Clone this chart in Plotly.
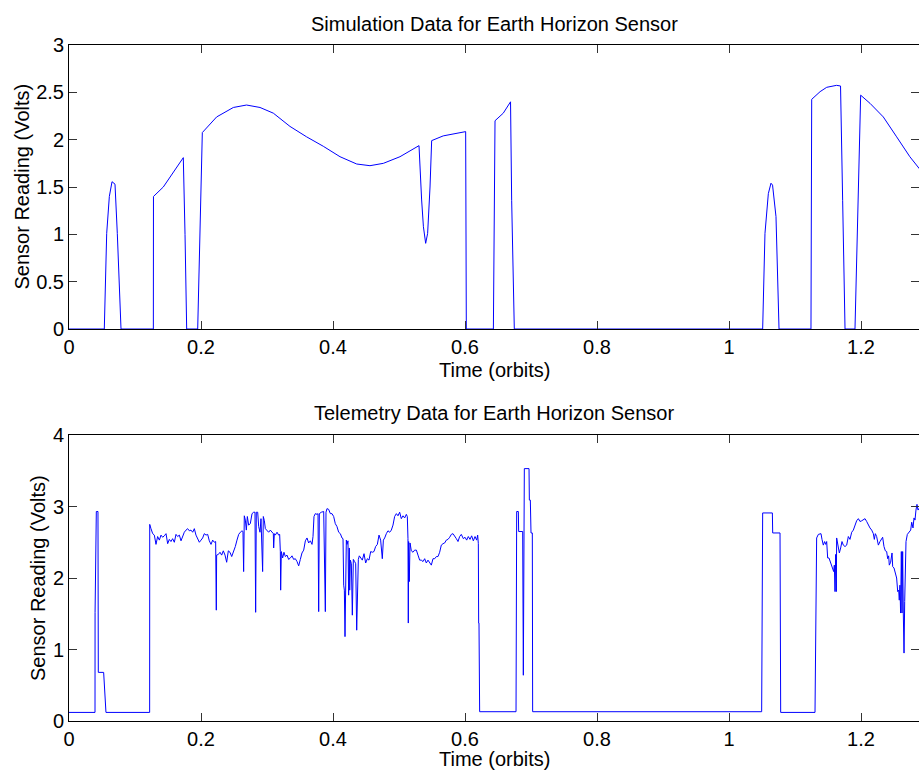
import plotly.graph_objects as go

# ---------------- data ----------------
sim_time = [0, 0.0535, 0.0571, 0.0611, 0.0652, 0.0697, 0.0732, 0.0788, 0.1278, 0.1280,
            0.1429, 0.1732, 0.1758, 0.1783, 0.1950, 0.2020, 0.2237, 0.2490, 0.2690, 0.2894,
            0.3096, 0.3348, 0.3600, 0.3853, 0.4106, 0.4359, 0.4560, 0.4763, 0.5015, 0.5303,
            0.5343, 0.5370, 0.5404, 0.5434, 0.5470, 0.5495, 0.5670, 0.5924, 0.6010, 0.6020,
            0.6430, 0.6455, 0.6580, 0.6690, 0.6707, 0.6747, 1.0510, 1.0545, 1.0596, 1.0636,
            1.0660, 1.0712, 1.0758, 1.1242, 1.1253, 1.1380, 1.1480, 1.1630, 1.1690, 1.1722,
            1.1758, 1.1909, 1.1960, 1.1995, 1.2136, 1.2338, 1.2540, 1.2740, 1.2880, 1.3000]
sim_volts = [0, 0, 1.01, 1.40, 1.556, 1.53, 1.01, 0, 0, 1.40,
             1.50, 1.81, 1.00, 0, 0, 2.075, 2.24, 2.34, 2.366, 2.34,
             2.28, 2.14, 2.03, 1.93, 1.82, 1.743, 1.725, 1.75, 1.82, 1.937,
             1.363, 1.08, 0.905, 1.01, 1.50, 1.99, 2.04, 2.075, 2.085, 0,
             0, 2.20, 2.28, 2.40, 1.36, 0, 0, 1.01, 1.43, 1.54,
             1.52, 1.187, 0, 0, 2.426, 2.507, 2.553, 2.574, 2.567, 1.36,
             0, 0, 1.54, 2.47, 2.384, 2.24, 2.03, 1.82, 1.697, 1.60]

tel_time = [0, 0.0394, 0.0395, 0.0414, 0.0439, 0.0444, 0.0525, 0.0535, 0.0545, 0.0560,
            0.1222, 0.1223,
            0.1242, 0.1268, 0.1293, 0.1318, 0.1343, 0.1369, 0.1394, 0.1419, 0.1444, 0.1470,
            0.1495, 0.1520, 0.1545, 0.1570, 0.1596, 0.1621, 0.1646, 0.1672, 0.1697, 0.1722,
            0.1747, 0.1773, 0.1798, 0.1823, 0.1848, 0.1874, 0.1899, 0.1924, 0.1949, 0.1975,
            0.2000, 0.2025, 0.2050, 0.2076, 0.2101, 0.2126, 0.2152, 0.2177, 0.2202, 0.2222,
            0.2232, 0.2237, 0.2263, 0.2288, 0.2313, 0.2338, 0.2364, 0.2389, 0.2414, 0.2439,
            0.2465, 0.2495, 0.2520, 0.2545, 0.2571, 0.2596, 0.2621, 0.2636, 0.2646, 0.2656,
            0.2672, 0.2687, 0.2702, 0.2722, 0.2747, 0.2773, 0.2798, 0.2818, 0.2823, 0.2828,
            0.2838, 0.2859, 0.2874, 0.2894, 0.2909, 0.2924, 0.2934, 0.2944, 0.2960, 0.2975,
            0.3000, 0.3025, 0.3050, 0.3076, 0.3096, 0.3101, 0.3111, 0.3126, 0.3152, 0.3177,
            0.3192, 0.3202, 0.3207, 0.3217, 0.3237, 0.3257, 0.3278, 0.3303, 0.3328, 0.3354,
            0.3379, 0.3404, 0.3429, 0.3455, 0.3480, 0.3505, 0.3530, 0.3556, 0.3581, 0.3606,
            0.3631, 0.3657, 0.3682, 0.3697, 0.3712, 0.3732, 0.3758, 0.3773, 0.3783, 0.3793,
            0.3823, 0.3859, 0.3884, 0.3894, 0.3909, 0.3934, 0.3960, 0.3985, 0.4010, 0.4035,
            0.4060, 0.4086, 0.4111, 0.4136, 0.4152, 0.4162, 0.4172, 0.4182, 0.4192, 0.4202,
            0.4212, 0.4227, 0.4237, 0.4247, 0.4253, 0.4263, 0.4278, 0.4293, 0.4308, 0.4328,
            0.4344, 0.4359, 0.4369, 0.4384, 0.4399, 0.4419, 0.4444, 0.4470, 0.4495, 0.4520,
            0.4545, 0.4571, 0.4596, 0.4621, 0.4646, 0.4672, 0.4697, 0.4722, 0.4747, 0.4763,
            0.4783, 0.4808, 0.4833, 0.4859, 0.4884, 0.4909, 0.4934, 0.4960, 0.4985, 0.5010,
            0.5035, 0.5061, 0.5086, 0.5111, 0.5126, 0.5136, 0.5141, 0.5146, 0.5156, 0.5167,
            0.5187, 0.5212, 0.5237, 0.5263, 0.5288, 0.5313, 0.5338, 0.5364, 0.5389, 0.5414,
            0.5439, 0.5465, 0.5490, 0.5515, 0.5541, 0.5566, 0.5591, 0.5616, 0.5641, 0.5667,
            0.5692, 0.5717, 0.5742, 0.5768, 0.5793, 0.5818, 0.5843, 0.5869, 0.5894, 0.5919,
            0.5944, 0.5975, 0.6000, 0.6025, 0.6050, 0.6076, 0.6101, 0.6126, 0.6152, 0.6177,
            0.6192, 0.6202, 0.6207, 0.6212, 0.6222, 0.6773, 0.6783, 0.6808, 0.6813, 0.6874,
            0.6884, 0.6894, 0.6899, 0.6970, 0.6975, 0.6990, 0.7000, 0.7020, 0.7025, 1.0495,
            1.0505, 1.0510, 1.0657, 1.0662, 1.0773, 1.0776, 1.0783, 1.1303, 1.1313, 1.1328,
            1.1354, 1.1374, 1.1394, 1.1409, 1.1429, 1.1449, 1.1465, 1.1480, 1.1495, 1.1515,
            1.1530, 1.1556, 1.1570, 1.1586, 1.1596, 1.1606, 1.1616, 1.1626, 1.1631, 1.1646,
            1.1662, 1.1672, 1.1692, 1.1712, 1.1732, 1.1758, 1.1783, 1.1808, 1.1833, 1.1859,
            1.1884, 1.1909, 1.1934, 1.1960, 1.1985, 1.2010, 1.2035, 1.2061, 1.2086, 1.2111,
            1.2136, 1.2162, 1.2187, 1.2202, 1.2217, 1.2237, 1.2263, 1.2288, 1.2313, 1.2328,
            1.2348, 1.2369, 1.2389, 1.2404, 1.2419, 1.2429, 1.2449, 1.2470, 1.2480, 1.2500,
            1.2520, 1.2540, 1.2556, 1.2571, 1.2580, 1.2590, 1.2600, 1.2611, 1.2621, 1.2631,
            1.2641, 1.2652, 1.2662, 1.2672, 1.2682, 1.2702, 1.2727, 1.2753, 1.2768, 1.2788,
            1.2803, 1.2818, 1.2833, 1.2848, 1.2864, 1.2900]
tel_volts = [0.12, 0.12, 1.52, 2.93, 2.93, 0.68, 0.68, 0.48, 0.34, 0.12,
             0.12, 2.75,
             2.69, 2.62, 2.60, 2.47, 2.58, 2.53, 2.60, 2.57, 2.59, 2.62,
             2.48, 2.54, 2.51, 2.55, 2.50, 2.61, 2.58, 2.60, 2.52, 2.59,
             2.64, 2.67, 2.69, 2.66, 2.67, 2.64, 2.69, 2.60, 2.55, 2.50,
             2.53, 2.56, 2.62, 2.60, 2.61, 2.52, 2.47, 2.53, 2.50, 2.51,
             1.55, 2.32, 2.33, 2.36, 2.32, 2.38, 2.32, 2.22, 2.38, 2.36,
             2.30, 2.37, 2.44, 2.53, 2.61, 2.64, 2.66, 2.65, 2.09, 2.87,
             2.81, 2.67, 2.86, 2.74, 2.76, 2.90, 2.92, 2.92, 2.23, 1.52,
             2.92, 2.92, 2.72, 2.64, 2.83, 2.46, 2.09, 2.86, 2.80, 2.69,
             2.67, 2.64, 2.67, 2.64, 2.62, 2.42, 2.62, 2.60, 2.64, 2.60,
             2.61, 2.37, 1.83, 2.37, 2.28, 2.36, 2.30, 2.32, 2.26, 2.28,
             2.31, 2.26, 2.27, 2.23, 2.17, 2.26, 2.35, 2.39, 2.52, 2.56,
             2.49, 2.52, 2.47, 2.58, 2.86, 2.90, 2.89, 2.90, 1.53, 2.90,
             2.92, 2.93, 1.53, 2.92, 2.97, 2.96, 2.90, 2.90, 2.86, 2.76,
             2.72, 2.64, 2.62, 2.56, 2.55, 1.90, 1.83, 1.18, 1.85, 2.53,
             2.47, 2.52, 1.76, 2.42, 1.83, 2.25, 2.20, 1.48, 2.26, 2.23,
             2.20, 1.27, 1.76, 2.26, 2.31, 2.29, 2.25, 2.34, 2.21, 2.27,
             2.25, 2.37, 2.36, 2.37, 2.44, 2.47, 2.60, 2.53, 2.27, 2.53,
             2.56, 2.62, 2.66, 2.64, 2.67, 2.74, 2.86, 2.90, 2.87, 2.92,
             2.83, 2.87, 2.84, 2.89, 2.86, 2.55, 1.37, 2.51, 1.95, 2.49,
             2.38, 2.36, 2.39, 2.39, 2.32, 2.25, 2.25, 2.23, 2.27, 2.21,
             2.25, 2.21, 2.18, 2.27, 2.27, 2.30, 2.30, 2.36, 2.46, 2.48,
             2.49, 2.53, 2.54, 2.57, 2.61, 2.62, 2.59, 2.55, 2.51, 2.58,
             2.61, 2.55, 2.57, 2.53, 2.58, 2.54, 2.59, 2.52, 2.58, 2.53,
             2.60, 2.48, 1.37, 1.37, 0.13, 0.13, 2.93, 2.93, 2.65, 2.65,
             0.64, 2.65, 3.53, 3.53, 3.09, 3.09, 2.63, 2.63, 0.13, 0.13,
             1.51, 2.91, 2.91, 2.63, 2.63, 1.37, 0.12, 0.12, 1.32, 2.56,
             2.61, 2.61, 2.62, 2.54, 2.46, 2.51, 2.47, 2.51, 2.28, 2.28,
             2.24, 2.18, 2.16, 2.09, 2.18, 1.81, 2.33, 1.81, 2.56, 2.46,
             2.42, 2.35, 2.42, 2.51, 2.46, 2.44, 2.46, 2.58, 2.54, 2.64,
             2.67, 2.74, 2.80, 2.83, 2.79, 2.80, 2.81, 2.83, 2.79, 2.74,
             2.70, 2.67, 2.62, 2.54, 2.62, 2.58, 2.46, 2.51, 2.55, 2.57,
             2.44, 2.38, 2.37, 2.27, 2.31, 2.18, 2.22, 2.35, 2.16, 2.14,
             2.07, 2.00, 1.81, 1.83, 1.69, 1.90, 1.51, 2.37, 1.51, 2.37,
             1.51, 0.95, 1.67, 2.09, 2.51, 2.61, 2.64, 2.67, 2.78, 2.70,
             2.84, 2.81, 2.95, 3.03, 2.95, 3.00]

x_ticks = [0, 0.2, 0.4, 0.6, 0.8, 1.0, 1.2]
sim_y_ticks = [0, 0.5, 1, 1.5, 2, 2.5, 3]
tel_y_ticks = [0, 1, 2, 3, 4]

# ---------------- layout geometry ----------------
W, H = 919, 771
LEFT = 69
TOP1, BOT1 = 45, 329
TOP2, BOT2 = 435, 721
FONT = "Liberation Sans, Arial, Helvetica, sans-serif"
LINE = "#0000ff"


def px_x(p):
    return p / W


def px_y(p):
    return 1 - p / H


fig = go.Figure()
fig.add_trace(go.Scatter(x=sim_time, y=sim_volts, mode="lines",
                         line=dict(color=LINE, width=1), xaxis="x", yaxis="y",
                         showlegend=False, hoverinfo="skip"))
fig.add_trace(go.Scatter(x=tel_time, y=tel_volts, mode="lines",
                         line=dict(color=LINE, width=1), xaxis="x2", yaxis="y2",
                         showlegend=False, hoverinfo="skip"))

x_range = [0, (W - LEFT) / 660.0]

axis_common = dict(showgrid=False, zeroline=False, showline=True, linecolor="#000000",
                   linewidth=1, mirror="ticks", ticks="inside", ticklen=8,
                   tickcolor="#333333", tickwidth=1, automargin=False,
                   tickfont=dict(family=FONT, size=20, color="#000000"))

fig.update_layout(
    width=W, height=H, autosize=False,
    margin=dict(l=0, r=0, t=0, b=0, pad=0, autoexpand=False),
    paper_bgcolor="#ffffff", plot_bgcolor="#ffffff",
    xaxis=dict(domain=[px_x(LEFT), 1], range=x_range, tickvals=x_ticks,
               anchor="y", **axis_common),
    yaxis=dict(domain=[px_y(BOT1), px_y(TOP1)], range=[0, 3], tickvals=sim_y_ticks,
               anchor="x", **axis_common),
    xaxis2=dict(domain=[px_x(LEFT), 1], range=x_range, tickvals=x_ticks,
                anchor="y2", **axis_common),
    yaxis2=dict(domain=[px_y(BOT2), px_y(TOP2)], range=[0, 4], tickvals=tel_y_ticks,
                anchor="x2", **axis_common),
)

cx = px_x((LEFT + W) / 2)
txt = dict(family=FONT, size=20, color="#000000")
ann = [
    dict(text="Simulation Data for Earth Horizon Sensor", x=cx, y=px_y(23.7)),
    dict(text="Time (orbits)", x=cx, y=px_y(370.4)),
    dict(text="Telemetry Data for Earth Horizon Sensor", x=cx, y=px_y(413)),
    dict(text="Time (orbits)", x=cx, y=px_y(758.5)),
    dict(text="Sensor Reading (Volts)", x=px_x(21.5), y=px_y((TOP1 + BOT1) / 2), textangle=-90),
    dict(text="Sensor Reading (Volts)", x=px_x(38), y=px_y((TOP2 + BOT2) / 2), textangle=-90),
]
for a in ann:
    fig.add_annotation(xref="paper", yref="paper", xanchor="center", yanchor="middle",
                       showarrow=False, font=txt, borderpad=0, **a)

fig.write_html("out.html", config={"displayModeBar": False},
               post_script="document.body.style.margin='0';document.body.style.overflow='hidden';")
